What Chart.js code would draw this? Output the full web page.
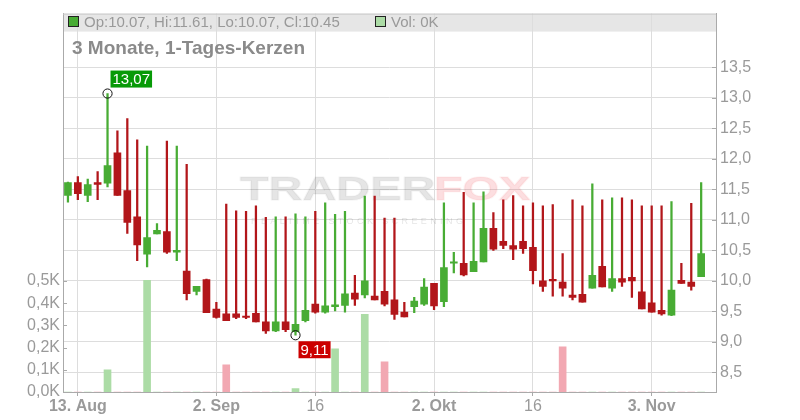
<!DOCTYPE html>
<html>
<head>
<meta charset="utf-8">
<title>3 Monate, 1-Tages-Kerzen</title>
<script src="https://cdn.jsdelivr.net/npm/chart.js@4.4.0/dist/chart.umd.min.js"></script>
<style>
    html, body { margin: 0; padding: 0; background: #fff; }
    #wrap { width: 800px; height: 420px; }
</style>
</head>
<body>
<div id="wrap"><canvas id="chart" width="800" height="420"></canvas></div>
<script>
// Trading days (weekdays) shown on the chart
const dates = [
    '2025-08-12', '2025-08-13', '2025-08-14', '2025-08-15',
    '2025-08-18', '2025-08-19', '2025-08-20', '2025-08-21', '2025-08-22',
    '2025-08-25', '2025-08-26', '2025-08-27', '2025-08-28', '2025-08-29',
    '2025-09-01', '2025-09-02', '2025-09-03', '2025-09-04', '2025-09-05',
    '2025-09-08', '2025-09-09', '2025-09-10', '2025-09-11', '2025-09-12',
    '2025-09-15', '2025-09-16', '2025-09-17', '2025-09-18', '2025-09-19',
    '2025-09-22', '2025-09-23', '2025-09-24', '2025-09-25', '2025-09-26',
    '2025-09-29', '2025-09-30', '2025-10-01', '2025-10-02', '2025-10-03',
    '2025-10-06', '2025-10-07', '2025-10-08', '2025-10-09', '2025-10-10',
    '2025-10-13', '2025-10-14', '2025-10-15', '2025-10-16', '2025-10-17',
    '2025-10-20', '2025-10-21', '2025-10-22', '2025-10-23', '2025-10-24',
    '2025-10-27', '2025-10-28', '2025-10-29', '2025-10-30', '2025-10-31',
    '2025-11-03', '2025-11-04', '2025-11-05', '2025-11-06', '2025-11-07',
    '2025-11-10'
];

const opens = [
    11.40, 11.61, 11.40, 11.61, 11.60, 12.10, 11.48, 11.05, 10.44, 10.77,
    10.81, 10.47, 10.16, 9.83, 10.02, 9.54, 9.46, 9.46, 9.42, 9.47,
    9.33, 9.18, 9.33, 9.17, 9.35, 9.62, 9.49, 9.58, 9.60, 9.80,
    9.77, 9.75, 9.83, 9.69, 9.49, 9.58, 9.62, 9.96, 9.66, 10.29,
    10.29, 10.15, 10.31, 10.86, 10.65, 10.58, 10.65, 10.55, 10.00, 10.02,
    9.98, 9.77, 9.78, 9.88, 10.24, 9.88, 10.04, 10.06, 9.82, 9.64,
    9.52, 9.44, 10.01, 9.98, 10.07
];
const highs = [
    11.62, 11.71, 11.67, 11.79, 13.07, 12.46, 12.66, 12.31, 12.21, 10.94,
    12.29, 12.21, 11.91, 9.91, 10.03, 9.65, 11.26, 11.15, 11.14, 11.23,
    11.04, 11.05, 11.05, 11.10, 11.05, 11.14, 11.28, 11.09, 11.14, 10.09,
    11.39, 11.39, 11.03, 11.03, 9.65, 9.73, 10.04, 9.96, 11.28, 10.47,
    11.45, 11.28, 11.46, 11.12, 11.33, 11.40, 11.23, 11.28, 11.23, 11.25,
    10.45, 11.33, 11.23, 11.59, 11.33, 11.36, 11.36, 11.33, 11.23, 11.23,
    11.23, 11.30, 10.29, 11.27, 11.61
];
const lows = [
    11.29, 11.33, 11.30, 11.33, 11.54, 11.40, 10.78, 10.33, 10.23, 10.77,
    10.45, 10.33, 9.69, 9.77, 9.48, 9.39, 9.35, 9.38, 9.38, 9.33,
    9.14, 9.17, 9.17, 9.11, 9.33, 9.47, 9.47, 9.51, 9.49, 9.60,
    9.72, 9.69, 9.59, 9.37, 9.41, 9.48, 9.60, 9.53, 9.58, 10.13,
    10.08, 10.15, 10.31, 10.50, 10.53, 10.35, 10.45, 9.95, 9.83, 9.75,
    9.75, 9.69, 9.65, 9.88, 9.90, 9.83, 9.91, 9.73, 9.54, 9.49,
    9.44, 9.43, 9.96, 9.85, 10.07
];
const closes = [
    11.61, 11.43, 11.58, 11.58, 11.89, 11.40, 10.96, 10.59, 10.71, 10.83,
    10.47, 10.50, 9.79, 9.91, 9.48, 9.40, 9.35, 9.40, 9.40, 9.33,
    9.18, 9.33, 9.20, 9.29, 9.52, 9.49, 9.59, 9.61, 9.79, 9.70,
    10.00, 9.69, 9.62, 9.45, 9.41, 9.67, 9.90, 9.59, 10.22, 10.31,
    10.10, 10.32, 10.86, 10.52, 10.58, 10.52, 10.53, 10.17, 9.91, 10.00,
    9.88, 9.73, 9.65, 10.09, 9.90, 10.04, 9.98, 10.00, 9.54, 9.49,
    9.46, 9.85, 9.96, 9.91, 10.45
];
const volumes = [
    0, 0, 0, 0, 100, 0, 0, 0, 503, 0,
    0, 0, 0, 0, 0, 0, 122, 0, 0, 0,
    0, 0, 0, 15, 0, 0, 0, 194, 0, 0,
    350, 0, 136, 0, 0, 0, 0, 0, 0, 0,
    0, 0, 0, 0, 0, 0, 0, 0, 0, 0,
    203, 0, 0, 0, 0, 0, 0, 0, 0, 0,
    0, 0, 0, 0, 0
];

const priceTicks = [8.5, 9.0, 9.5, 10.0, 10.5, 11.0, 11.5, 12.0, 12.5, 13.0, 13.5];
const volumeTicks = [0, 100, 200, 300, 400, 500];
const xTickDates = ['2025-08-13', '2025-09-02', '2025-09-16', '2025-10-02', '2025-10-16', '2025-11-03'];
const xTickLabels = ['13. Aug', '2. Sep', '16', '2. Okt', '16', '3. Nov'];

const legendText = 'Op:10.07, Hi:11.61, Lo:10.07, Cl:10.45';
const volLegendText = 'Vol: 0K';
const titleText = '3 Monate, 1-Tages-Kerzen';

const FONT = "'Liberation Sans', Arial, sans-serif";
const GREEN = '#48ac34';
const RED = '#b2161a';
const VOL_GREEN = '#acdca6';
const VOL_RED = '#f2a8b2';

function comma(v, digits) {
    return v.toFixed(digits).replace('.', ',');
}

const isUp = closes.map((c, i) => c >= opens[i]);

// Header band, title, watermark, extreme labels, inner tick marks
const decorPlugin = {
    id: 'decor',
    beforeDraw(chart) {
        const { ctx, chartArea: a } = chart;
        ctx.save();
        ctx.fillStyle = '#e6e6e6';
        ctx.fillRect(a.left, a.top, a.right - a.left, 18);
        ctx.restore();
    },
    beforeDatasetsDraw(chart) {
        const { ctx } = chart;
        ctx.save();
        ctx.textBaseline = 'alphabetic';
        ctx.font = 'bold 33px ' + FONT;
        const sx = 1.42;
        ctx.scale(sx, 1);
        ctx.lineJoin = 'round';
        ctx.lineWidth = 1.5;
        ctx.fillStyle = 'rgba(0, 0, 0, 0.1)';
        ctx.strokeStyle = 'rgba(0, 0, 0, 0.04)';
        ctx.fillText('TRADER', 240 / sx, 200);
        ctx.strokeText('TRADER', 240 / sx, 200);
        ctx.fillStyle = 'rgba(235, 60, 70, 0.17)';
        ctx.strokeStyle = 'rgba(235, 60, 70, 0.06)';
        ctx.fillText('FOX', 434 / sx, 200);
        ctx.strokeText('FOX', 434 / sx, 200);
        ctx.setTransform(1, 0, 0, 1, 0, 0);
        ctx.font = '9px ' + FONT;
        ctx.letterSpacing = '3.4px';
        ctx.fillStyle = 'rgba(0, 0, 0, 0.11)';
        ctx.fillText('REALTIME STOCK SCREENING', 251, 224);
        ctx.restore();
    },
    afterDraw(chart) {
        const { ctx, chartArea: a, scales } = chart;
        ctx.save();

        // frame top line
        ctx.strokeStyle = '#c8c8c8';
        ctx.lineWidth = 1;
        ctx.beginPath();
        ctx.moveTo(a.left, a.top + 0.5);
        ctx.lineTo(a.right, a.top + 0.5);
        ctx.stroke();

        // inner tick marks
        ctx.strokeStyle = '#aaaaaa';
        ctx.beginPath();
        priceTicks.forEach(v => {
            const y = Math.round(scales.y.getPixelForValue(v)) + 0.5;
            ctx.moveTo(a.right - 4, y);
            ctx.lineTo(a.right, y);
        });
        volumeTicks.forEach(v => {
            const y = Math.round(scales.yVol.getPixelForValue(v)) + 0.5;
            ctx.moveTo(a.left, y);
            ctx.lineTo(a.left + 4, y);
        });
        ctx.stroke();

        // legend line
        ctx.lineWidth = 1;
        ctx.fillStyle = GREEN;
        ctx.fillRect(68, 16, 11, 11);
        ctx.strokeStyle = '#222';
        ctx.strokeRect(68.5, 16.5, 10, 10);
        ctx.fillStyle = VOL_GREEN;
        ctx.fillRect(375, 16, 11, 11);
        ctx.strokeRect(375.5, 16.5, 10, 10);

        ctx.fillStyle = '#999999';
        ctx.font = '15px ' + FONT;
        ctx.textBaseline = 'alphabetic';
        ctx.fillText(legendText, 84, 27);
        ctx.fillText(volLegendText, 391, 27);

        ctx.fillStyle = '#8a8a8a';
        ctx.font = 'bold 19px ' + FONT;
        ctx.fillText(titleText, 72, 54);

        // highest high / lowest low markers
        const hiIdx = highs.indexOf(Math.max(...highs));
        const loIdx = lows.indexOf(Math.min(...lows));
        const marks = [
            { i: hiIdx, v: highs[hiIdx], color: '#079a07', above: true },
            { i: loIdx, v: lows[loIdx], color: '#cc0000', above: false }
        ];
        ctx.font = '15px ' + FONT;
        marks.forEach(m => {
            const cx = scales.x.getPixelForValue(m.i);
            const cy = scales.y.getPixelForValue(m.v);
            ctx.strokeStyle = '#111';
            ctx.lineWidth = 1;
            ctx.beginPath();
            ctx.arc(cx, cy, 4.6, 0, Math.PI * 2);
            ctx.stroke();

            const label = comma(m.v, 2);
            const w = ctx.measureText(label).width + 4;
            const h = 17;
            const bx = cx + 3;
            const by = m.above ? cy - 23 : cy + 6;
            ctx.fillStyle = m.color;
            ctx.fillRect(bx, by, w, h);
            ctx.fillStyle = '#ffffff';
            ctx.textBaseline = 'middle';
            ctx.fillText(label, bx + 2, by + h / 2 + 1);
        });
        ctx.restore();
    }
};

const ctx = document.getElementById('chart');

new Chart(ctx, {
    type: 'bar',
    data: {
        // one empty slot after the last day, as in the original
        labels: dates.concat(['']),
        datasets: [
            {
                label: 'Körper',
                data: opens.map((o, i) => [o, closes[i]]),
                backgroundColor: isUp.map(u => u ? GREEN : RED),
                barThickness: 7,
                minBarLength: 1.5,
                grouped: false,
                yAxisID: 'y',
                order: 1
            },
            {
                label: 'Docht',
                data: lows.map((l, i) => [l, highs[i]]),
                backgroundColor: isUp.map(u => u ? GREEN : RED),
                barThickness: 1.6,
                grouped: false,
                yAxisID: 'y',
                order: 2
            },
            {
                label: 'Volumen',
                data: volumes,
                backgroundColor: isUp.map(u => u ? VOL_GREEN : VOL_RED),
                barThickness: 7,
                grouped: false,
                yAxisID: 'yVol',
                order: 3
            }
        ]
    },
    options: {
        responsive: false,
        animation: false,
        layout: { padding: { top: 12, left: 0, right: 0, bottom: 0 } },
        plugins: {
            legend: { display: false },
            tooltip: { enabled: false }
        },
        scales: {
            x: {
                type: 'category',
                offset: true,
                afterBuildTicks: scale => {
                    scale.ticks = xTickDates.map(d => ({ value: dates.indexOf(d) }));
                },
                afterFit: scale => { scale.height = 28; },
                grid: { offset: false, color: '#dddddd', tickColor: '#aaaaaa', tickLength: 4 },
                border: { color: '#aaaaaa' },
                ticks: {
                    color: '#9a9a9a',
                    padding: 1,
                    maxRotation: 0,
                    autoSkip: false,
                    font: c => ({
                        family: FONT,
                        size: 16,
                        weight: /[A-Za-z]/.test(xTickLabels[c.index] || '') ? 'bold' : 'normal'
                    }),
                    callback: (value, index) => xTickLabels[index]
                }
            },
            y: {
                position: 'right',
                min: 8.18,
                max: 14.38,
                afterBuildTicks: scale => {
                    scale.ticks = priceTicks.map(v => ({ value: v }));
                },
                afterFit: scale => { scale.width = 84; },
                grid: { color: '#dddddd', drawTicks: false },
                border: { color: '#aaaaaa' },
                ticks: {
                    color: '#9a9a9a',
                    padding: 4,
                    font: { family: FONT, size: 16 },
                    callback: v => comma(v, 1)
                }
            },
            yVol: {
                position: 'left',
                min: 0,
                max: 1705,
                afterBuildTicks: scale => {
                    scale.ticks = volumeTicks.map(v => ({ value: v }));
                },
                afterFit: scale => { scale.width = 63; },
                grid: { display: false, drawTicks: false },
                border: { display: true, color: '#aaaaaa' },
                ticks: {
                    color: '#9a9a9a',
                    padding: 3,
                    font: { family: FONT, size: 16 },
                    callback: v => comma(v / 1000, 1) + 'K'
                }
            }
        }
    },
    plugins: [decorPlugin]
});
</script>
</body>
</html>
